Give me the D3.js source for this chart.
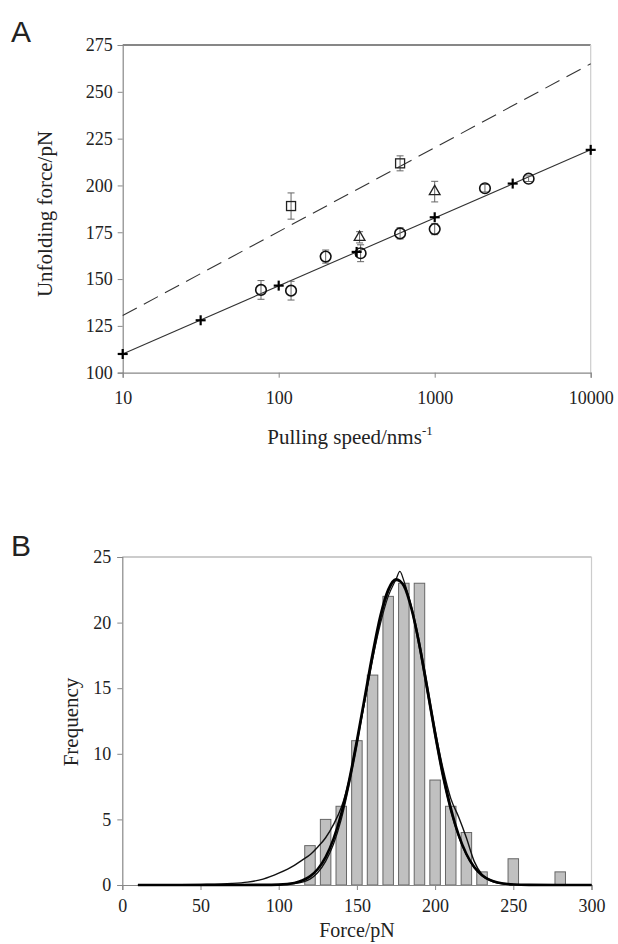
<!DOCTYPE html>
<html>
<head>
<meta charset="utf-8">
<script src="https://cdn.jsdelivr.net/npm/d3@7"></script>
<style>
  html, body { margin: 0; padding: 0; background: #fff; }
  svg text { font-family: 'Liberation Serif', 'Times New Roman', serif; fill: #222; }
</style>
</head>
<body>
<div id="chart"></div>
<script>
// ---- panel A data ----
const speedTicks = [10, 100, 1000, 10000];
const forceTicksA = [100, 125, 150, 175, 200, 225, 250, 275];
const fitSpeed = [10, 10000];
const fitSolid = [110, 219];
const fitDashed = [130.5, 265];
const crossSpeed = [10, 31.6, 100, 316, 1000, 3162, 10000];
const crossForce = [110, 128, 146.5, 164.5, 183, 201, 219];
const circleSpeed = [77, 120, 200, 335, 600, 1000, 2100, 4000];
const circleForce = [144.2, 143.8, 162.0, 163.8, 174.4, 176.7, 198.5, 203.6];
const circleErr = [5, 5, 3.5, 4.5, 3, 3, 2, 1.5];
const squareSpeed = [120, 600];
const squareForce = [189, 211.8];
const squareErr = [7, 4];
const triangleSpeed = [330, 1000];
const triangleForce = [172.3, 196.7];
const triangleErr = [3, 5.5];

// ---- panel B data ----
const binCenters = [120, 130, 140, 150, 160, 170, 180, 190, 200, 210, 220, 230, 240, 250, 260, 270, 280];
const binCounts = [3, 5, 6, 11, 16, 22, 23, 23, 8, 6, 4, 1, 0, 2, 0, 0, 1];
const forceTicksB = [0, 50, 100, 150, 200, 250, 300];
const freqTicks = [0, 5, 10, 15, 20, 25];
const fitForce = [10, 50, 90, 100, 110, 115, 120, 125, 130, 135, 140, 145, 150, 155, 160, 165, 170, 175, 180, 185, 190, 195, 200, 205, 210, 215, 220, 225, 230, 235, 240, 250, 260, 300];
const fitFreq = [0, 0, 0.01, 0.03, 0.16, 0.34, 0.66, 1.22, 2.13, 3.5, 5.43, 7.95, 11.0, 14.3, 17.6, 20.5, 22.5, 23.3, 22.8, 21.0, 18.3, 15.0, 11.6, 8.5, 5.89, 3.84, 2.36, 1.37, 0.75, 0.39, 0.19, 0.04, 0.01, 0];
const kdeForce = [10, 30, 50, 70, 80, 90, 100, 110, 115, 120, 125, 130, 135, 140, 145, 150, 155, 160, 165, 170, 175, 180, 185, 190, 195, 200, 205, 210, 215, 220, 225, 230, 235, 240, 250, 260, 300];
const kdeFreq = [0, 0.02, 0.05, 0.12, 0.22, 0.45, 0.9, 1.5, 1.9, 2.3, 2.9, 3.6, 4.6, 5.9, 8.0, 11.0, 14.0, 17.2, 20.2, 22.3, 23.2, 22.9, 21.2, 18.5, 15.2, 11.8, 8.9, 6.6, 5.2, 3.6, 1.8, 0.8, 0.4, 0.2, 0.05, 0.01, 0];
const simForce = [10, 90, 100, 110, 120, 125, 130, 135, 140, 145, 150, 155, 160, 165, 170, 175, 177.5, 180, 185, 190, 195, 200, 205, 210, 215, 220, 225, 230, 240, 250, 300];
const simFreq = [0, 0, 0.02, 0.1, 0.45, 0.95, 1.8, 3.1, 5.0, 7.6, 10.6, 14.0, 17.2, 19.9, 22.0, 23.3, 23.9, 23.2, 21.0, 18.0, 14.6, 11.2, 8.1, 5.6, 3.7, 2.3, 1.3, 0.7, 0.15, 0.03, 0];

const width = 618;
const height = 944;
const axisGrey = '#888';

const svg = d3.select('#chart').append('svg')
  .attr('width', width)
  .attr('height', height);

// ================= panel A =================
const ax = d3.scaleLog().domain([10, 10000]).range([122.7, 590.7]);
const ay = d3.scaleLinear().domain([100, 275]).range([372.7, 45]);

const gA = svg.append('g');

// frame: black top, light right
gA.append('line')
  .attr('x1', ax(10)).attr('x2', ax(10000))
  .attr('y1', ay(275)).attr('y2', ay(275))
  .attr('stroke', '#111').attr('stroke-width', 1.2);
gA.append('line')
  .attr('x1', ax(10000)).attr('x2', ax(10000))
  .attr('y1', ay(275)).attr('y2', ay(100))
  .attr('stroke', '#ccc').attr('stroke-width', 1.2);

const yAxisA = gA.append('g')
  .attr('transform', `translate(${ax(10)},0)`)
  .call(d3.axisLeft(ay).tickValues(forceTicksA).tickSize(5).tickPadding(5));
const xAxisA = gA.append('g')
  .attr('transform', `translate(0,${ay(100)})`)
  .call(d3.axisBottom(ax).tickValues(speedTicks).tickFormat(d3.format('d')).tickSize(5).tickPadding(14));
[yAxisA, xAxisA].forEach(function (a) {
  a.select('.domain').attr('stroke', axisGrey).attr('stroke-width', 1.2);
  a.selectAll('.tick line').attr('stroke', axisGrey);
  a.selectAll('.tick text')
    .attr('font-size', 18)
    .attr('font-family', 'Liberation Serif')
    .attr('fill', '#222');
});

// fit lines
const fitLine = d3.line()
  .x(function (d) { return ax(d[0]); })
  .y(function (d) { return ay(d[1]); });
gA.append('path')
  .datum(fitSpeed.map(function (s, i) { return [s, fitSolid[i]]; }))
  .attr('d', fitLine)
  .attr('fill', 'none')
  .attr('stroke', '#333')
  .attr('stroke-width', 1.1);
gA.append('path')
  .datum(fitSpeed.map(function (s, i) { return [s, fitDashed[i]]; }))
  .attr('d', fitLine)
  .attr('fill', 'none')
  .attr('stroke', '#333')
  .attr('stroke-width', 1.1)
  .attr('stroke-dasharray', '16,8');

// error bars
function errorBars(speeds, forces, errs) {
  const g = gA.append('g').attr('stroke', '#666').attr('stroke-width', 1);
  speeds.forEach(function (s, i) {
    const x = ax(s);
    const y1 = ay(forces[i] + errs[i]);
    const y2 = ay(forces[i] - errs[i]);
    g.append('line').attr('x1', x).attr('x2', x).attr('y1', y1).attr('y2', y2);
    g.append('line').attr('x1', x - 3.5).attr('x2', x + 3.5).attr('y1', y1).attr('y2', y1);
    g.append('line').attr('x1', x - 3.5).attr('x2', x + 3.5).attr('y1', y2).attr('y2', y2);
  });
}
errorBars(circleSpeed, circleForce, circleErr);
errorBars(squareSpeed, squareForce, squareErr);
errorBars(triangleSpeed, triangleForce, triangleErr);

// markers
gA.selectAll('.circ')
  .data(circleSpeed)
  .enter()
  .append('circle')
  .attr('cx', function (d) { return ax(d); })
  .attr('cy', function (d, i) { return ay(circleForce[i]); })
  .attr('r', 5.3)
  .attr('fill', 'none')
  .attr('stroke', '#111')
  .attr('stroke-width', 1.6);

gA.selectAll('.sq')
  .data(squareSpeed)
  .enter()
  .append('rect')
  .attr('x', function (d) { return ax(d) - 4.5; })
  .attr('y', function (d, i) { return ay(squareForce[i]) - 4.5; })
  .attr('width', 9)
  .attr('height', 9)
  .attr('fill', 'none')
  .attr('stroke', '#222')
  .attr('stroke-width', 1.3);

const tri = d3.symbol().type(d3.symbolTriangle).size(50);
gA.selectAll('.tri')
  .data(triangleSpeed)
  .enter()
  .append('path')
  .attr('d', tri)
  .attr('transform', function (d, i) { return `translate(${ax(d)},${ay(triangleForce[i])})`; })
  .attr('fill', 'none')
  .attr('stroke', '#222')
  .attr('stroke-width', 1.3);

const crosses = gA.append('g').attr('stroke', '#000').attr('stroke-width', 2.2);
crossSpeed.forEach(function (s, i) {
  const x = ax(s);
  const y = ay(crossForce[i]);
  crosses.append('line').attr('x1', x - 5).attr('x2', x + 5).attr('y1', y).attr('y2', y);
  crosses.append('line').attr('x1', x).attr('x2', x).attr('y1', y - 5).attr('y2', y + 5);
});

// labels
gA.append('text')
  .attr('transform', 'translate(52,214) rotate(-90)')
  .attr('text-anchor', 'middle')
  .attr('font-size', 21)
  .text('Unfolding force/pN');
const xt = gA.append('text')
  .attr('x', 350)
  .attr('y', 444)
  .attr('text-anchor', 'middle')
  .attr('font-size', 21);
xt.append('tspan').text('Pulling speed/nms');
xt.append('tspan').attr('font-size', 13).attr('dy', -9).text('-1');

svg.append('text')
  .attr('x', 11)
  .attr('y', 42)
  .attr('style', 'font-family: Liberation Sans, Arial, sans-serif')
  .attr('font-size', 30)
  .text('A');

// ================= panel B =================
const bx = d3.scaleLinear().domain([0, 300]).range([122.3, 591.5]);
const by = d3.scaleLinear().domain([0, 25]).range([885, 557]);

const gB = svg.append('g');

gB.append('line')
  .attr('x1', bx(0)).attr('x2', bx(300))
  .attr('y1', by(25)).attr('y2', by(25))
  .attr('stroke', '#999').attr('stroke-width', 1.2);
gB.append('line')
  .attr('x1', bx(300)).attr('x2', bx(300))
  .attr('y1', by(25)).attr('y2', by(0))
  .attr('stroke', '#ccc').attr('stroke-width', 1.2);

const barW = 10.5;
gB.selectAll('.bar')
  .data(binCenters)
  .enter()
  .filter(function (d, i) { return binCounts[i] > 0; })
  .append('rect')
  .attr('x', function (d) { return bx(d) - barW / 2; })
  .attr('y', function (d) { return by(binCounts[binCenters.indexOf(d)]); })
  .attr('width', barW)
  .attr('height', function (d) { return by(0) - by(binCounts[binCenters.indexOf(d)]); })
  .attr('fill', '#c0c0c0')
  .attr('stroke', '#666')
  .attr('stroke-width', 1);

const yAxisB = gB.append('g')
  .attr('transform', `translate(${bx(0)},0)`)
  .call(d3.axisLeft(by).tickValues(freqTicks).tickSize(5).tickPadding(6));
const xAxisB = gB.append('g')
  .attr('transform', `translate(0,${by(0)})`)
  .call(d3.axisBottom(bx).tickValues(forceTicksB).tickSize(5).tickPadding(9));
[yAxisB, xAxisB].forEach(function (a) {
  a.select('.domain').attr('stroke', axisGrey).attr('stroke-width', 1.2);
  a.selectAll('.tick line').attr('stroke', axisGrey);
  a.selectAll('.tick text')
    .attr('font-size', 18)
    .attr('font-family', 'Liberation Serif')
    .attr('fill', '#222');
});

const curve = d3.line()
  .x(function (d) { return bx(d[0]); })
  .y(function (d) { return by(d[1]); })
  .curve(d3.curveMonotoneX);

gB.append('path')
  .datum(kdeForce.map(function (f, i) { return [f, kdeFreq[i]]; }))
  .attr('d', curve)
  .attr('fill', 'none')
  .attr('stroke', '#111')
  .attr('stroke-width', 1.4);
gB.append('path')
  .datum(simForce.map(function (f, i) { return [f, simFreq[i]]; }))
  .attr('d', curve)
  .attr('fill', 'none')
  .attr('stroke', '#111')
  .attr('stroke-width', 1.3);
gB.append('path')
  .datum(fitForce.map(function (f, i) { return [f, fitFreq[i]]; }))
  .attr('d', curve)
  .attr('fill', 'none')
  .attr('stroke', '#000')
  .attr('stroke-width', 2.6);

gB.append('text')
  .attr('transform', 'translate(78,722) rotate(-90)')
  .attr('text-anchor', 'middle')
  .attr('font-size', 21)
  .text('Frequency');
gB.append('text')
  .attr('x', 357)
  .attr('y', 937)
  .attr('text-anchor', 'middle')
  .attr('font-size', 20)
  .text('Force/pN');

svg.append('text')
  .attr('x', 11)
  .attr('y', 556)
  .attr('style', 'font-family: Liberation Sans, Arial, sans-serif')
  .attr('font-size', 30)
  .text('B');
</script>
</body>
</html>
